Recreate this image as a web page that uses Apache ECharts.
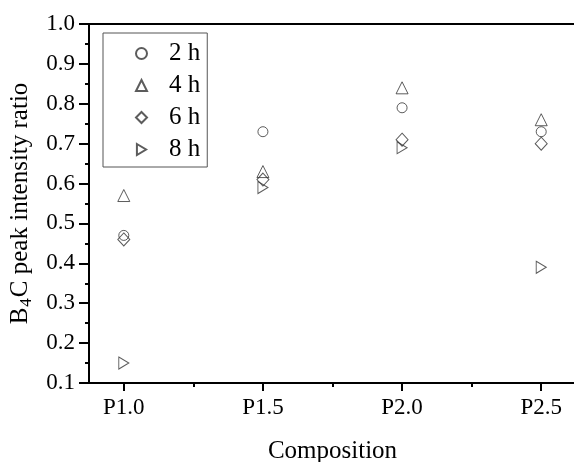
<!DOCTYPE html>
<html>
<head>
<meta charset="utf-8">
<script src="https://cdn.jsdelivr.net/npm/echarts@6/dist/echarts.min.js"></script>
<style>
  html, body { margin: 0; padding: 0; background: #fff; }
  #chart { width: 574px; height: 462px; }
</style>
</head>
<body>
<div id="chart"></div>
<script>
var categories = ['P1.0', 'P1.5', 'P2.0', 'P2.5']
var h2 = [0.47, 0.73, 0.79, 0.73]
var h4 = [0.57, 0.63, 0.84, 0.76]
var h6 = [0.46, 0.61, 0.71, 0.70]
var h8 = [0.15, 0.59, 0.69, 0.39]

var font = 'Liberation Serif'
var chart = echarts.init(document.getElementById('chart'))

function pts (arr) {
  return arr.map(function (v, i) { return [i, v] })
}

function mk (name, arr, symbol, size) {
  return {
    name: name,
    type: 'scatter',
    data: pts(arr),
    symbol: symbol,
    symbolSize: size,
    itemStyle: { color: 'rgba(0,0,0,0)', borderColor: '#333', borderWidth: 1 }
  }
}

var option = {
  backgroundColor: '#fff',
  animation: false,
  grid: { left: 89, right: -2, top: 24, bottom: 79, containLabel: false, outerBoundsMode: 'none' },
  legend: {
    orient: 'vertical',
    left: 103,
    top: 33,
    padding: [8, 7, 5, 32],
    itemGap: 7,
    itemWidth: 11,
    itemHeight: 11,
    borderColor: '#555',
    borderWidth: 1,
    textStyle: { fontFamily: font, fontSize: 25, color: '#000', lineHeight: 24, padding: [0, 0, 0, 17] },
    data: ['2 h', '4 h', '6 h', '8 h']
  },
  xAxis: [
    {
      type: 'value',
      min: -0.25,
      max: 3.25,
      position: 'bottom',
      name: 'Composition',
      nameLocation: 'middle',
      nameGap: 56,
      nameTextStyle: { fontFamily: font, fontSize: 25, color: '#000' },
      axisLine: { onZero: false, lineStyle: { color: '#000', width: 2 } },
      axisTick: { customValues: [0, 1, 2, 3], length: 8, lineStyle: { color: '#000', width: 2 } },
      axisLabel: {
        customValues: [0, 1, 2, 3],
        margin: 13,
        fontFamily: font, fontSize: 23, color: '#000',
        formatter: function (v) { return categories[Math.round(v)] }
      },
      splitLine: { show: false }
    },
    {
      type: 'value',
      min: -0.25,
      max: 3.25,
      position: 'bottom',
      axisLine: { show: false, onZero: false },
      axisTick: { customValues: [0.5, 1.5, 2.5], length: 4, lineStyle: { color: '#000', width: 2 } },
      axisLabel: { show: false },
      splitLine: { show: false }
    },
    {
      type: 'value',
      min: -0.25,
      max: 3.25,
      position: 'top',
      axisLine: { onZero: false, lineStyle: { color: '#000', width: 2 } },
      axisTick: { show: false },
      axisLabel: { show: false },
      splitLine: { show: false }
    }
  ],
  yAxis: {
    type: 'value',
    min: 0.1,
    max: 1.0,
    interval: 0.1,
    name: '{b|B}{s|4}{b|C peak intensity ratio}',
    nameLocation: 'middle',
    nameGap: 53,
    nameTextStyle: {
      rich: {
        b: { fontFamily: font, fontSize: 25, color: '#000', lineHeight: 30 },
        s: { fontFamily: font, fontSize: 17, color: '#000', lineHeight: 30, padding: [12, 1, 0, 1] }
      }
    },
    axisLine: { onZero: false, lineStyle: { color: '#000', width: 2 } },
    axisTick: { length: 10, lineStyle: { color: '#000', width: 2 } },
    minorTick: { show: true, splitNumber: 2, length: 4, lineStyle: { color: '#000', width: 2 } },
    axisLabel: {
      margin: 14,
      fontFamily: font, fontSize: 23, color: '#000',
      formatter: function (v) { return v.toFixed(1) }
    },
    splitLine: { show: false }
  },
  series: [
    mk('2 h', h2, 'circle', 10),
    mk('4 h', h4, 'triangle', 12),
    mk('6 h', h6, 'diamond', [12, 13]),
    mk('8 h', h8, 'path://M0,0L10,6L0,12Z', [10, 12])
  ]
}

option && chart.setOption(option)
</script>
</body>
</html>
